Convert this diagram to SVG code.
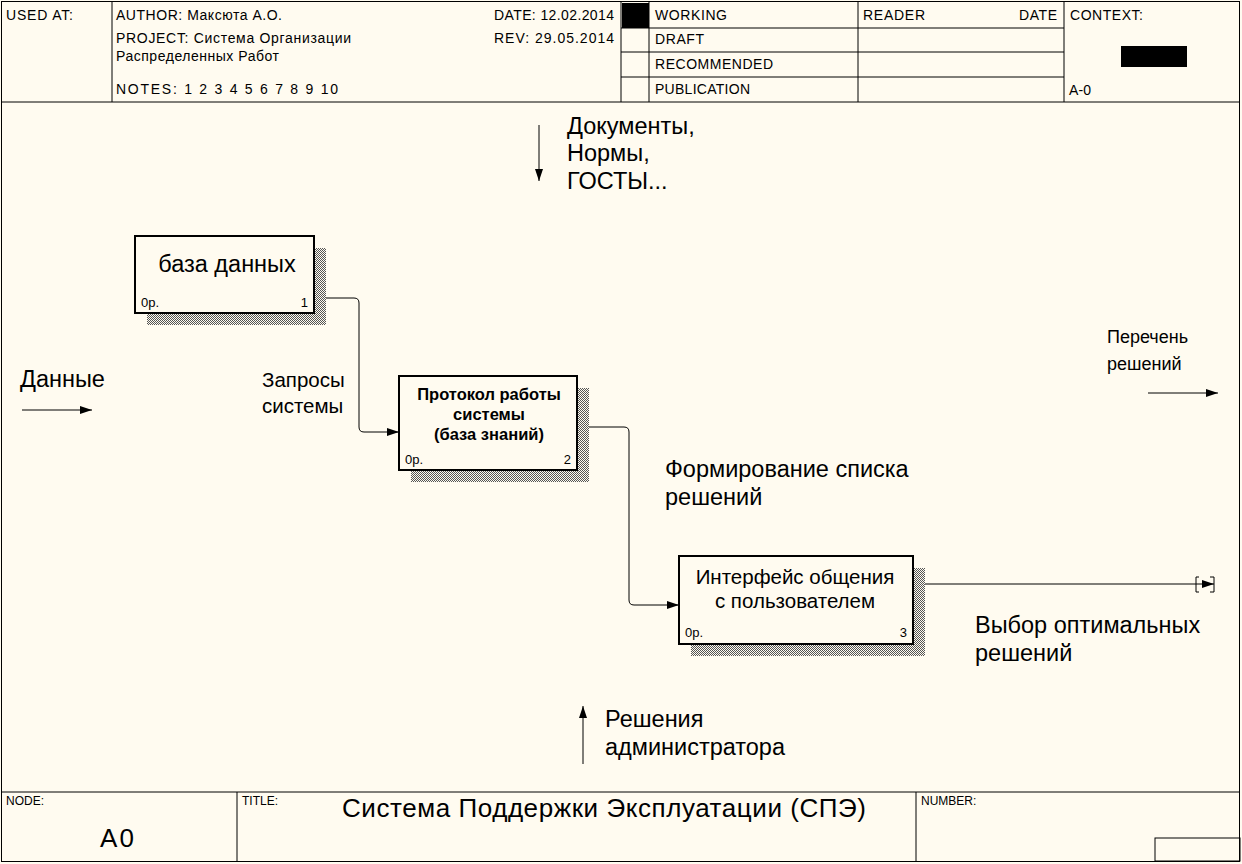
<svg xmlns="http://www.w3.org/2000/svg" width="1242" height="864" viewBox="0 0 1242 864">
<defs>
<pattern id="hatch" width="2" height="2" patternUnits="userSpaceOnUse"><rect width="2" height="2" fill="#fffbf0"/><rect width="1" height="1" fill="#555"/><rect x="1" y="1" width="1" height="1" fill="#555"/></pattern>
<marker id="ah" markerWidth="12" markerHeight="8" refX="12" refY="4" orient="auto" markerUnits="userSpaceOnUse"><path d="M0,0 L12,4 L0,8 Z" fill="#000"/></marker>
</defs>
<style>
.f{font-family:"Liberation Sans",Arial,sans-serif;fill:#000}
.s{font-size:14px}
.m{font-size:23.5px}
.ln{stroke:#000;stroke-width:1;fill:none}
.box{fill:#fffbf0;stroke:#000;stroke-width:2}
.ar{stroke:#000;stroke-width:1;fill:none;marker-end:url(#ah)}
</style>
<rect x="0" y="0" width="1242" height="864" fill="#fffbf0"/>
<g id="frame">
<rect x="1.5" y="1.5" width="1238" height="860" class="ln" stroke-width="2"/>
<line x1="1" y1="102" x2="1240" y2="102" class="ln" stroke-width="2"/>
<line x1="112" y1="2" x2="112" y2="102" class="ln"/>
<line x1="621" y1="2" x2="621" y2="102" class="ln"/>
<line x1="649" y1="2" x2="649" y2="102" class="ln"/>
<line x1="858" y1="2" x2="858" y2="102" class="ln"/>
<line x1="1064" y1="2" x2="1064" y2="102" class="ln"/>
<line x1="621" y1="28" x2="1064" y2="28" class="ln"/>
<line x1="621" y1="52" x2="1064" y2="52" class="ln"/>
<line x1="621" y1="77" x2="1064" y2="77" class="ln"/>
<rect x="622" y="3" width="27" height="25" fill="#000"/>
<rect x="1121" y="46" width="66" height="21" fill="#000"/>
<text class="f s" x="6" y="20" textLength="67">USED AT:</text>
<text class="f s" x="116" y="20" textLength="166">AUTHOR:  Максюта А.О.</text>
<text class="f s" x="116" y="43" textLength="235">PROJECT:  Система Организации</text>
<text class="f s" x="116" y="61" textLength="163">Распределенных Работ</text>
<text class="f s" x="116" y="94" textLength="222">NOTES:  1  2  3  4  5  6  7  8  9  10</text>
<text class="f s" x="494" y="20" textLength="120">DATE:  12.02.2014</text>
<text class="f s" x="494" y="43" textLength="120">REV:    29.05.2014</text>
<text class="f s" x="655" y="20" textLength="72">WORKING</text>
<text class="f s" x="655" y="44" textLength="49">DRAFT</text>
<text class="f s" x="655" y="69" textLength="118">RECOMMENDED</text>
<text class="f s" x="655" y="94" textLength="95">PUBLICATION</text>
<text class="f s" x="863" y="20" textLength="62">READER</text>
<text class="f s" x="1019" y="20" textLength="38">DATE</text>
<text class="f s" x="1070" y="20" textLength="73">CONTEXT:</text>
<text class="f s" x="1069" y="95" textLength="22">A-0</text>
<line x1="1" y1="792" x2="1240" y2="792" class="ln" stroke-width="2"/>
<line x1="237" y1="792" x2="237" y2="861" class="ln"/>
<line x1="916" y1="792" x2="916" y2="861" class="ln"/>
<rect x="1155" y="838" width="85" height="23" class="ln"/>
<text class="f" font-size="12" x="6" y="805">NODE:</text>
<text class="f" font-size="12" x="242" y="805">TITLE:</text>
<text class="f" font-size="12" x="921" y="805">NUMBER:</text>
<text class="f" font-size="26" x="100" y="847" textLength="34">A0</text>
<text class="f" font-size="26" x="342" y="817" textLength="524">Система Поддержки Эксплуатации (СПЭ)</text>
</g>
<g id="connectors">
<path class="ar" d="M314,298 H354 Q359,298 359,303 V427 Q359,432 364,432 H399"/>
<path class="ar" d="M577,427 H624 Q629,427 629,432 V600 Q629,605 634,605 H679"/>
<path class="ar" d="M913,584 H1214"/>
<path class="ln" d="M1199,577 H1196 V592 H1199 M1210,577 H1214 V592 H1210"/>
<path class="ar" d="M22,410 H92"/>
<path class="ar" d="M539,125 V181"/>
<path class="ar" d="M1148,393 H1218"/>
<path class="ar" d="M583,764 V706"/>
<text class="f m" x="20" y="387">Данные</text>
<text class="f m" x="567" y="134">Документы,</text>
<text class="f m" x="567" y="161">Нормы,</text>
<text class="f m" x="567" y="189">ГОСТЫ...</text>
<text class="f" font-size="18" x="1107" y="343">Перечень</text>
<text class="f" font-size="18" x="1107" y="370">решений</text>
<text class="f" font-size="20.5" x="262" y="387">Запросы</text>
<text class="f" font-size="20.5" x="262" y="413">системы</text>
<text class="f m" x="665" y="477">Формирование списка</text>
<text class="f m" x="665" y="505">решений</text>
<text class="f m" x="975" y="633">Выбор оптимальных</text>
<text class="f m" x="975" y="661">решений</text>
<text class="f m" x="605" y="727">Решения</text>
<text class="f m" x="605" y="755">администратора</text>
</g>
<g id="n1">
<rect x="314" y="248" width="12" height="77" fill="url(#hatch)"/>
<rect x="147" y="313" width="179" height="12" fill="url(#hatch)"/>
<rect x="135" y="236" width="179" height="77" class="box"/>
<text class="f" font-size="23.5" x="227" y="272" text-anchor="middle">база данных</text>
<text class="f" font-size="13" x="141" y="307">0р.</text>
<text class="f" font-size="13" x="308" y="307" text-anchor="end">1</text>
</g>
<g id="n2">
<rect x="577" y="388" width="12" height="94" fill="url(#hatch)"/>
<rect x="411" y="470" width="178" height="12" fill="url(#hatch)"/>
<rect x="399" y="376" width="178" height="94" class="box"/>
<text class="f" font-size="16.5" font-weight="bold" x="489" y="400" text-anchor="middle">Протокол работы</text>
<text class="f" font-size="16.5" font-weight="bold" x="489" y="420" text-anchor="middle">системы</text>
<text class="f" font-size="16.5" font-weight="bold" x="489" y="440" text-anchor="middle">(база знаний)</text>
<text class="f" font-size="13" x="405" y="464">0р.</text>
<text class="f" font-size="13" x="571" y="464" text-anchor="end">2</text>
</g>
<g id="n3">
<rect x="913" y="568" width="12" height="88" fill="url(#hatch)"/>
<rect x="691" y="644" width="234" height="12" fill="url(#hatch)"/>
<rect x="679" y="556" width="234" height="88" class="box"/>
<text class="f" font-size="20.5" x="795" y="584" text-anchor="middle">Интерфейс общения</text>
<text class="f" font-size="20.5" x="795" y="608" text-anchor="middle">с пользователем</text>
<text class="f" font-size="13" x="685" y="637">0р.</text>
<text class="f" font-size="13" x="907" y="637" text-anchor="end">3</text>
</g>
</svg>
